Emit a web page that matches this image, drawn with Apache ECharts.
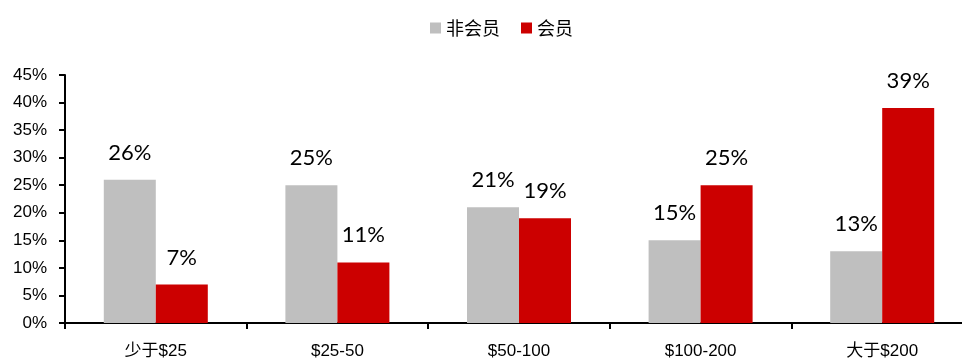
<!DOCTYPE html>
<html>
<head>
<meta charset="utf-8">
<script src="https://cdn.jsdelivr.net/npm/echarts@6/dist/echarts.min.js"></script>
<style>
  html, body { margin: 0; padding: 0; background: #fff; overflow: hidden; }
  /* plot runs past the right edge of the window, so the canvas is wider than the view */
  #chart { width: 985px; height: 362px; }
</style>
</head>
<body>
<div id="chart"></div>
<script>
// Spending brackets and share of shoppers in each
const categories = ['少于$25', '$25-50', '$50-100', '$100-200', '大于$200'];
const nonMember = [26, 25, 21, 15, 13];
const member = [7, 11, 19, 25, 39];
const seriesNames = ['非会员', '会员'];

const chart = echarts.init(document.getElementById('chart'));

const valueLabel = {
  show: true,
  position: 'top',
  distance: 16,
  formatter: p => p.value + '%',
  fontFamily: 'Lato',
  fontSize: 22,
  color: '#000'
};

chart.setOption({
  animation: false,
  legend: {
    data: seriesNames,
    top: 14,
    left: 425,
    itemWidth: 11,
    itemHeight: 11,
    itemGap: 21,
    icon: 'rect',
    textStyle: { fontFamily: 'Noto Sans CJK SC', fontSize: 18, color: '#000' }
  },
  grid: { left: 65, top: 75, width: 908, bottom: 39, containLabel: false },
  xAxis: {
    type: 'category',
    data: categories,
    axisLine: { lineStyle: { color: '#000', width: 2 } },
    axisTick: { show: true, length: 6, lineStyle: { color: '#000', width: 2 } },
    axisLabel: {
      margin: 20,
      fontFamily: 'Liberation Sans, Noto Sans CJK SC',
      fontSize: 17,
      color: '#000'
    }
  },
  yAxis: {
    type: 'value',
    min: 0,
    max: 45,
    interval: 5,
    splitLine: { show: false },
    axisLine: { show: true, lineStyle: { color: '#000', width: 2 } },
    axisTick: { show: true, length: 6, lineStyle: { color: '#000', width: 2 } },
    axisLabel: {
      margin: 18,
      formatter: '{value}%',
      fontFamily: 'Liberation Sans',
      fontSize: 17,
      color: '#000'
    }
  },
  series: [
    {
      name: seriesNames[0],
      type: 'bar',
      data: nonMember,
      barWidth: 52,
      barGap: '0%',
      itemStyle: { color: '#BFBFBF' },
      label: valueLabel
    },
    {
      name: seriesNames[1],
      type: 'bar',
      data: member,
      barWidth: 52,
      barGap: '0%',
      itemStyle: { color: '#CC0000' },
      label: valueLabel
    }
  ]
});
</script>
</body>
</html>
